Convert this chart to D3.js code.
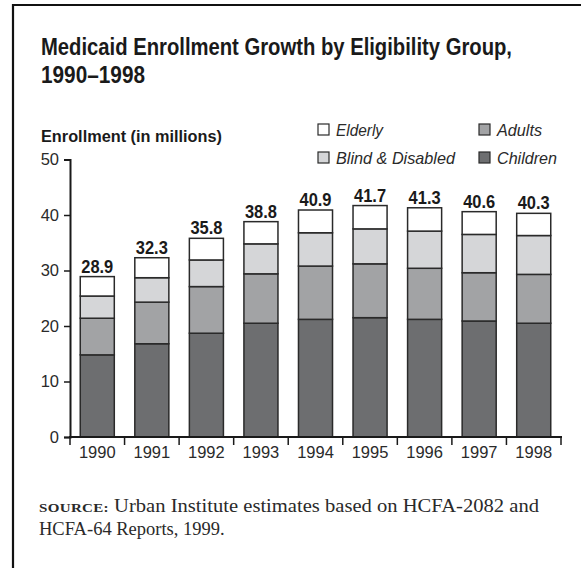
<!DOCTYPE html>
<html>
<head>
<meta charset="utf-8">
<script src="https://cdn.jsdelivr.net/npm/d3@7"></script>
<style>
  html, body { margin: 0; padding: 0; background: #fff; }
  svg { display: block; }
</style>
</head>
<body>
<svg id="chart" width="581" height="568"></svg>
<script>
// Medicaid enrollment (millions) by eligibility group, 1990–1998
const years    = ["1990", "1991", "1992", "1993", "1994", "1995", "1996", "1997", "1998"];
const children = [14.8, 16.8, 18.7, 20.5, 21.2, 21.5, 21.2, 20.9, 20.5];
const adults   = [6.6, 7.5, 8.4, 8.9, 9.6, 9.7, 9.2, 8.7, 8.8];
const blind    = [4.0, 4.4, 4.8, 5.4, 6.0, 6.3, 6.7, 6.9, 7.0];
const elderly  = [3.5, 3.6, 3.9, 4.0, 4.1, 4.2, 4.2, 4.1, 4.0];
const yTicks   = [0, 10, 20, 30, 40, 50];

const groups = ["children", "adults", "blind", "elderly"];
const colors = { children: "#6d6e70", adults: "#a2a3a5", blind: "#d5d6d8", elderly: "#ffffff" };

const rows = years.map((yr, i) => ({
  year: yr,
  children: children[i], adults: adults[i], blind: blind[i], elderly: elderly[i]
}));
rows.forEach(r => { r.total = groups.reduce((s, g) => s + r[g], 0); });

const svg = d3.select("#chart");
const sans = "'Liberation Sans', Arial, Helvetica, sans-serif";
const serif = "'Liberation Serif', 'Times New Roman', serif";

// outer frame (open to the right and bottom)
svg.append("path")
  .attr("d", "M13,600 L13,5 L600,5")
  .attr("fill", "none").attr("stroke", "#111").attr("stroke-width", 2.2);

// title
svg.append("text").attr("x", 41).attr("y", 55)
  .attr("font-family", sans).attr("font-weight", "bold").attr("font-size", 23)
  .attr("fill", "#1a1a1a").attr("textLength", 471).attr("lengthAdjust", "spacingAndGlyphs")
  .text("Medicaid Enrollment Growth by Eligibility Group,");
svg.append("text").attr("x", 41).attr("y", 83)
  .attr("font-family", sans).attr("font-weight", "bold").attr("font-size", 23)
  .attr("fill", "#1a1a1a").attr("textLength", 104).attr("lengthAdjust", "spacingAndGlyphs")
  .text("1990–1998");

// axis title
svg.append("text").attr("x", 41).attr("y", 142)
  .attr("font-family", sans).attr("font-weight", "bold").attr("font-size", 17)
  .attr("fill", "#1a1a1a").attr("textLength", 181).attr("lengthAdjust", "spacingAndGlyphs")
  .text("Enrollment (in millions)");

// scales
const x = d3.scaleBand().domain(years).range([70, 561])
  .paddingInner(0.376).paddingOuter(0.188);
const y = d3.scaleLinear().domain([0, 50]).range([437, 159.5]);

// stacked bars
const stack = d3.stack().keys(groups)(rows);
const layer = svg.append("g").selectAll("g").data(stack).join("g")
  .attr("fill", d => colors[d.key]);
layer.selectAll("rect").data(d => d).join("rect")
  .attr("x", d => x(d.data.year))
  .attr("width", x.bandwidth())
  .attr("y", d => y(d[1]))
  .attr("height", d => y(d[0]) - y(d[1]))
  .attr("stroke", "#2a2a2a").attr("stroke-width", 1.5);

// total labels
svg.append("g").selectAll("text").data(rows).join("text")
  .attr("x", d => x(d.year) + x.bandwidth() / 2)
  .attr("y", d => y(d.total) - 4)
  .attr("text-anchor", "middle")
  .attr("font-family", sans).attr("font-weight", "bold").attr("font-size", 18)
  .attr("fill", "#1a1a1a")
  .attr("textLength", 32).attr("lengthAdjust", "spacingAndGlyphs")
  .text(d => d.total.toFixed(1));

// y axis
const yAxis = svg.append("g").attr("transform", "translate(70,0)")
  .call(d3.axisLeft(y).tickValues(yTicks).tickSize(6).tickPadding(5).tickSizeOuter(6));
yAxis.select(".domain").attr("stroke", "#1a1a1a").attr("stroke-width", 2);
yAxis.selectAll(".tick line").attr("stroke", "#1a1a1a").attr("stroke-width", 1.5);
yAxis.selectAll(".tick text").attr("font-family", sans).attr("font-size", 16.5)
  .attr("fill", "#2a2a2a");

// x axis: baseline, boundary ticks, centered year labels
const step = x.step();
const gap = step - x.bandwidth();
const bounds = years.map(yr => x(yr) - gap / 2).concat([x(years[years.length - 1]) + x.bandwidth() + gap / 2]);
const xg = svg.append("g");
xg.append("line").attr("x1", 69).attr("x2", bounds[bounds.length - 1] + 1)
  .attr("y1", y(0)).attr("y2", y(0)).attr("stroke", "#1a1a1a").attr("stroke-width", 2);
xg.selectAll("line.b").data(bounds).join("line").attr("class", "b")
  .attr("x1", d => d).attr("x2", d => d)
  .attr("y1", y(0)).attr("y2", y(0) + 8)
  .attr("stroke", "#1a1a1a").attr("stroke-width", 1.5);
xg.selectAll("text").data(years).join("text")
  .attr("x", d => x(d) + x.bandwidth() / 2)
  .attr("y", 458)
  .attr("text-anchor", "middle")
  .attr("font-family", sans).attr("font-size", 16.5).attr("fill", "#2a2a2a")
  .text(d => d);

// legend
const legendItems = [
  { key: "elderly",  label: "Elderly",          x: 318, y: 124, w: 47 },
  { key: "adults",   label: "Adults",           x: 479, y: 124, w: 45 },
  { key: "blind",    label: "Blind & Disabled", x: 318, y: 152, w: 119 },
  { key: "children", label: "Children",         x: 479, y: 152, w: 60 }
];
const lg = svg.append("g").selectAll("g").data(legendItems).join("g")
  .attr("transform", d => `translate(${d.x},${d.y})`);
lg.append("rect").attr("width", 11).attr("height", 11)
  .attr("fill", d => colors[d.key]).attr("stroke", "#2a2a2a").attr("stroke-width", 1.2);
lg.append("text").attr("x", 18).attr("y", 12)
  .attr("font-family", sans).attr("font-style", "italic").attr("font-size", 17)
  .attr("fill", "#2a2a2a")
  .attr("textLength", d => d.w).attr("lengthAdjust", "spacingAndGlyphs")
  .text(d => d.label);

// source note
const src1 = svg.append("text").attr("x", 39).attr("y", 512)
  .attr("font-family", serif).attr("font-size", 18.5).attr("fill", "#2a2a2a")
  .attr("textLength", 500).attr("lengthAdjust", "spacingAndGlyphs");
src1.append("tspan").attr("font-size", 13.5).attr("font-weight", "bold")
  .attr("letter-spacing", 0.3).text("SOURCE:");
src1.append("tspan").text(" Urban Institute estimates based on HCFA-2082 and");
svg.append("text").attr("x", 39).attr("y", 535)
  .attr("font-family", serif).attr("font-size", 18.5).attr("fill", "#2a2a2a")
  .text("HCFA-64 Reports, 1999.");
</script>
</body>
</html>
